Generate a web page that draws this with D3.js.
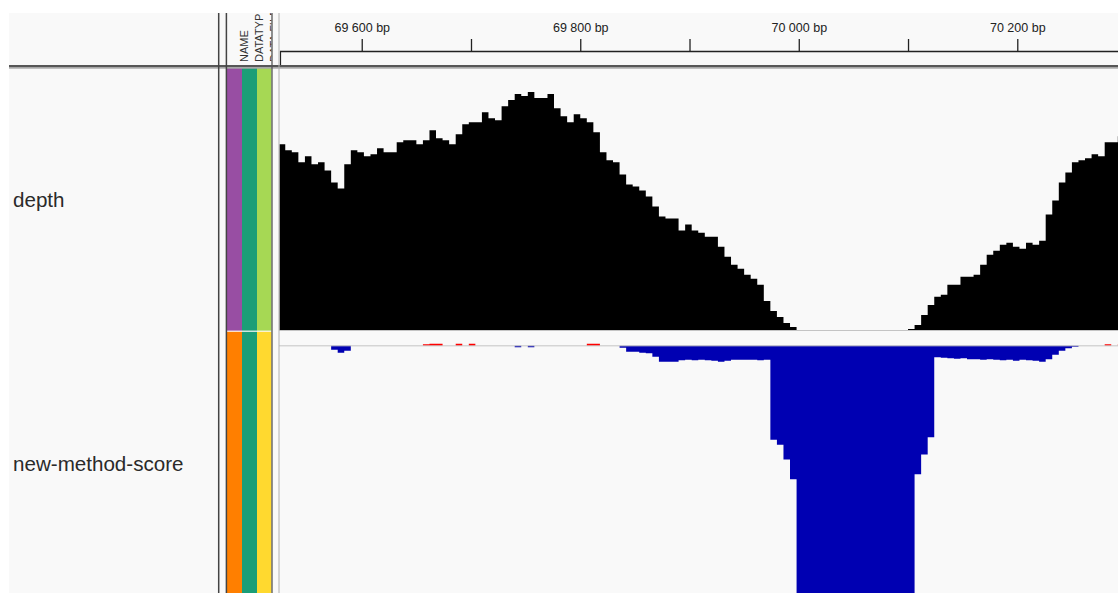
<!DOCTYPE html>
<html>
<head>
<meta charset="utf-8">
<script src="https://cdn.jsdelivr.net/npm/d3@7"></script>
<style>
  body { margin: 0; background: #fff; }
  text { font-family: "Liberation Sans", Arial, sans-serif; }
</style>
</head>
<body>
<div id="igv"></div>
<script>
/* global d3 */

// Binned coverage, 6 bp per bin starting at 69 524
const binStart = 69524
const binSize = 6
const depth = [
  93, 90, 89, 84, 87, 83, 84, 80, 74, 71,
  83, 90, 89, 87, 88, 91, 89, 89, 94, 95,
  95, 93, 95, 100, 96, 95, 93, 98, 103, 104,
  104, 109, 106, 105, 112, 115, 118, 117, 119, 116,
  116, 118, 111, 107, 104, 108, 106, 104, 99, 89,
  85, 84, 78, 73, 72, 70, 67, 62, 57, 56,
  56, 50, 53, 50, 49, 47, 47, 42, 37, 33,
  31, 28, 26, 23, 15, 10, 7, 4, 2, 0,
  0, 0, 0, 0, 0, 0, 0, 0, 0, 0,
  0, 0, 0, 0, 0, 0, 1, 3, 8, 13,
  17, 18, 23, 23, 27, 27, 28, 33, 38, 40,
  43, 44, 42, 41, 44, 43, 45, 58, 65, 74,
  79, 84, 85, 86, 88, 87, 94, 94, 97
]
const score = [
  0, 0, 0, 0, 0, 0, 0, 0, -0.08, -0.14,
  -0.1, 0, 0, 0, 0, 0, 0, 0, 0, 0,
  0, 0, 0.03, 0.04, 0.04, 0, 0, 0.04, 0, 0.04,
  0, 0, 0, 0, 0, 0, -0.03, 0, -0.03, 0,
  0, 0, 0, 0, 0, 0, 0, 0.04, 0.04, 0,
  0, 0, -0.04, -0.12, -0.12, -0.14, -0.15, -0.22, -0.32, -0.32,
  -0.32, -0.29, -0.28, -0.29, -0.28, -0.29, -0.3, -0.32, -0.3, -0.28,
  -0.28, -0.28, -0.28, -0.29, -0.28, -1.9, -2.0, -2.3, -2.7, -8,
  -8, -8, -8, -8, -8, -8, -8, -8, -8, -8,
  -8, -8, -8, -8, -8, -8, -8, -2.6, -2.2, -1.85,
  -0.23, -0.24, -0.25, -0.26, -0.25, -0.27, -0.27, -0.28, -0.27, -0.28,
  -0.29, -0.28, -0.3, -0.28, -0.29, -0.3, -0.32, -0.27, -0.18, -0.1,
  -0.05, -0.02, 0, 0, 0, 0, 0.03, 0, 0.03
]
const rulerTicks = [69600, 69700, 69800, 69900, 70000, 70100, 70200]
const trackNames = ['depth', 'new-method-score']
const attrNames = ['NAME', 'DATATYPE', 'DATA FILE']
const attrColors = [
  ['#984ea3', '#1b9e77', '#a6d854'],
  ['#ff7f00', '#1b9e77', '#ffd92f']
]

// canvas
const width = 1118,
  height = 593,
  panelTop = 13,
  panelLeft = 9,
  dataLeft = 279,
  attrLeft = 227,
  attrCol = 15

const tracks = [
  { y0: 68, y1: 331, label: 207 },
  { y0: 331, y1: 600, label: 471 }
]

let svg = d3.select('#igv')
  .append('svg')
  .attr('width', width)
  .attr('height', height)
  .style('display', 'block')

svg.append('rect')
  .attr('width', width).attr('height', height)
  .attr('fill', '#fff')

svg.append('rect')
  .attr('x', panelLeft).attr('y', panelTop)
  .attr('width', width - panelLeft).attr('height', height - panelTop)
  .attr('fill', '#f9f9f9')

// genomic scale
let x = d3.scaleLinear()
  .domain([69524, 70292])
  .range([278.7, 1117.8])

let spaceFmt = d3.formatLocale({ decimal: '.', thousands: ' ', grouping: [3], currency: ['', ''] }).format(',')

// ruler
let rulerAxis = d3.axisTop(x)
  .tickValues(rulerTicks)
  .tickSize(12)
  .tickPadding(7)
  .tickSizeOuter(0)
  .tickFormat(d => (d % 200 === 0 ? spaceFmt(d) + ' bp' : ''))

let ruler = svg.append('g')
  .attr('transform', 'translate(0, 51)')
  .call(rulerAxis)

ruler.select('.domain').remove()
ruler.selectAll('.tick line').attr('stroke', '#222').attr('stroke-width', 1.3)
ruler.selectAll('.tick text')
  .attr('fill', '#222')
  .style('font-size', '12.5px')
  .style('font-family', '"Liberation Sans", Arial, sans-serif')

svg.append('line')
  .attr('x1', 280).attr('x2', width)
  .attr('y1', 51.5).attr('y2', 51.5)
  .attr('stroke', '#222').attr('stroke-width', 1.5)
svg.append('line')
  .attr('x1', 280.5).attr('x2', 280.5)
  .attr('y1', 51).attr('y2', 65)
  .attr('stroke', '#222').attr('stroke-width', 1.2)

// clip paths for each track
let defs = svg.append('defs')
tracks.forEach((t, i) => {
  defs.append('clipPath').attr('id', 'clip' + i)
    .append('rect')
    .attr('x', dataLeft + 0.5).attr('y', t.y0)
    .attr('width', width - dataLeft).attr('height', t.y1 - t.y0)
})
defs.append('clipPath').attr('id', 'clipAttr')
  .append('rect')
  .attr('x', attrLeft).attr('y', panelTop)
  .attr('width', 44.5).attr('height', 65 - panelTop)

let toPoints = (arr, f) => {
  let pts = arr.map((v, i) => ({ bp: binStart + i * binSize, v: f(v) }))
  pts.push({ bp: binStart + arr.length * binSize, v: f(arr[arr.length - 1]) })
  return pts
}

// depth track
let yDepth = d3.scaleLinear()
  .domain([0, 131])
  .range([331, 68])

let depthArea = d3.area()
  .curve(d3.curveStepAfter)
  .x(d => x(d.bp))
  .y0(yDepth(0))
  .y1(d => yDepth(d.v))

svg.append('path')
  .attr('clip-path', 'url(#clip0)')
  .attr('d', depthArea(toPoints(depth, v => v)))
  .attr('fill', '#000')

svg.append('line')
  .attr('x1', dataLeft).attr('x2', width)
  .attr('y1', 330.5).attr('y2', 330.5)
  .attr('stroke', '#c4c4c4')

// score track
let yScore = d3.scaleLinear()
  .domain([-5, 0.3])
  .range([593, 331])

let scoreArea = d3.area()
  .curve(d3.curveStepAfter)
  .x(d => x(d.bp))
  .y0(yScore(0))
  .y1(d => yScore(d.v))

svg.append('path')
  .attr('clip-path', 'url(#clip1)')
  .attr('d', scoreArea(toPoints(score, v => Math.min(v, 0))))
  .attr('fill', '#0000b2')

svg.append('path')
  .attr('clip-path', 'url(#clip1)')
  .attr('d', scoreArea(toPoints(score, v => Math.max(v, 0))))
  .attr('fill', '#ff0000')

svg.append('line')
  .attr('x1', dataLeft).attr('x2', width)
  .attr('y1', yScore(0)).attr('y2', yScore(0))
  .attr('stroke', '#c4c4c4')

// attribute cells
tracks.forEach((t, i) => {
  attrColors[i].forEach((c, j) => {
    svg.append('rect')
      .attr('x', attrLeft + j * attrCol)
      .attr('y', t.y0 + (i ? 0.8 : 0))
      .attr('width', j === 2 ? 14.5 : attrCol)
      .attr('height', Math.min(t.y1, height) - t.y0 - (i ? 0.8 : 0.4))
      .attr('fill', c)
  })
})

// attribute header
svg.append('g')
  .attr('clip-path', 'url(#clipAttr)')
  .selectAll('text')
  .data(attrNames)
  .enter()
  .append('text')
  .attr('transform', (d, j) => `translate(${attrLeft + j * attrCol + 21}, 62) rotate(-90)`)
  .attr('fill', '#333')
  .style('font-size', '11px')
  .text(d => d)

// track names
svg.selectAll('.name')
  .data(trackNames)
  .enter()
  .append('text')
  .attr('class', 'name')
  .attr('x', 13)
  .attr('y', (d, i) => tracks[i].label)
  .attr('fill', '#2a2a2a')
  .style('font-size', '20.6px')
  .text(d => d)

// header band
svg.append('rect')
  .attr('x', panelLeft).attr('y', 65)
  .attr('width', width - panelLeft).attr('height', 2.5)
  .attr('fill', '#575757')
svg.append('rect')
  .attr('x', panelLeft).attr('y', 67.5)
  .attr('width', width - panelLeft).attr('height', 1.2)
  .attr('fill', '#a8a8a8')

// panel dividers
let vline = (xp, color, w) => {
  svg.append('line')
    .attr('x1', xp).attr('x2', xp)
    .attr('y1', panelTop).attr('y2', height)
    .attr('stroke', color).attr('stroke-width', w)
}
vline(218.7, '#444', 1.5)
vline(226.4, '#444', 1.5)
vline(272, '#555', 1.3)
vline(279, '#b0b0b0', 1)
</script>
</body>
</html>
